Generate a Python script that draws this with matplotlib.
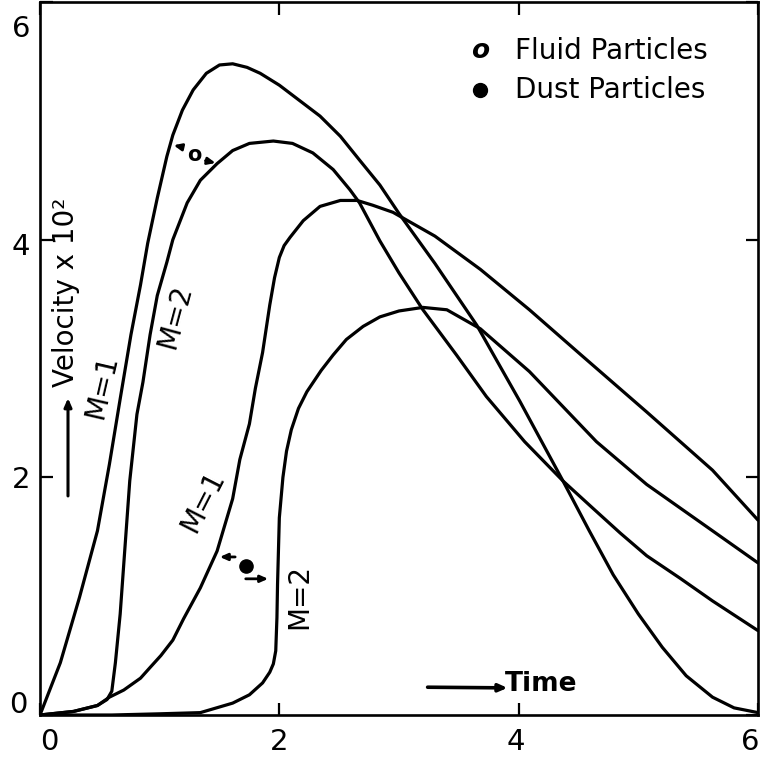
import matplotlib
matplotlib.use("Agg")
import matplotlib.pyplot as plt
from matplotlib.transforms import ScaledTranslation

# ---- data ----
fluid_m1_x = [0, 0.17, 0.33, 0.48, 0.58, 0.67, 0.76, 0.84, 0.90, 0.98, 1.06, 1.11, 1.19, 1.28,
              1.39, 1.50, 1.61, 1.73, 1.84, 2.00, 2.17, 2.34, 2.51, 2.67, 2.84, 3.00, 3.30,
              3.65, 4.01, 4.37, 4.59, 4.79, 5.00, 5.20, 5.40, 5.62, 5.80, 6.00]
fluid_m1_y = [0, 0.44, 0.99, 1.55, 2.11, 2.66, 3.20, 3.62, 3.97, 4.35, 4.70, 4.88, 5.09, 5.26,
              5.40, 5.47, 5.48, 5.45, 5.40, 5.30, 5.17, 5.04, 4.87, 4.67, 4.46, 4.22, 3.80,
              3.28, 2.64, 1.97, 1.55, 1.18, 0.85, 0.57, 0.33, 0.15, 0.06, 0.02]

fluid_m2_x = [0, 0.28, 0.48, 0.56, 0.60, 0.63, 0.67, 0.71, 0.75, 0.81, 0.86, 0.92, 0.98, 1.06,
              1.11, 1.23, 1.34, 1.48, 1.61, 1.75, 1.95, 2.11, 2.28, 2.45, 2.59, 2.67, 2.84,
              3.00, 3.20, 3.48, 3.73, 4.05, 4.37, 4.62, 4.85, 5.07, 5.35, 5.62, 6.00]
fluid_m2_y = [0, 0.03, 0.08, 0.13, 0.20, 0.44, 0.85, 1.41, 1.97, 2.53, 2.80, 3.20, 3.53, 3.81,
              4.00, 4.31, 4.50, 4.64, 4.75, 4.81, 4.83, 4.81, 4.73, 4.59, 4.42, 4.31, 3.99,
              3.72, 3.41, 3.03, 2.68, 2.30, 1.97, 1.74, 1.53, 1.34, 1.15, 0.96, 0.71]

dust_m1_x = [0, 0.28, 0.48, 0.58, 0.70, 0.84, 0.92, 1.01, 1.11, 1.20, 1.34, 1.48, 1.61, 1.67,
             1.75, 1.80, 1.86, 1.92, 1.96, 2.00, 2.04, 2.09, 2.20, 2.34, 2.51, 2.65, 2.78,
             2.95, 3.30, 3.68, 4.09, 4.51, 5.07, 5.62, 6.00]
dust_m1_y = [0, 0.03, 0.08, 0.15, 0.21, 0.31, 0.40, 0.50, 0.63, 0.81, 1.07, 1.38, 1.82, 2.15,
             2.45, 2.75, 3.05, 3.45, 3.68, 3.85, 3.95, 4.02, 4.16, 4.28, 4.33, 4.33, 4.29,
             4.23, 4.03, 3.75, 3.41, 3.04, 2.55, 2.06, 1.64]

dust_m2_x = [0, 0.60, 1.00, 1.34, 1.61, 1.75, 1.86, 1.92, 1.95, 1.97, 1.98, 1.985, 2.00, 2.03,
             2.06, 2.10, 2.16, 2.23, 2.35, 2.45, 2.56, 2.70, 2.84, 3.00, 3.20, 3.40, 3.68,
             4.09, 4.65, 5.07, 5.62, 6.00]
dust_m2_y = [0, 0.0, 0.01, 0.02, 0.10, 0.17, 0.27, 0.36, 0.43, 0.54, 0.82, 1.10, 1.66, 2.00,
             2.22, 2.40, 2.58, 2.72, 2.90, 3.03, 3.16, 3.27, 3.35, 3.40, 3.43, 3.41, 3.25,
             2.89, 2.30, 1.94, 1.55, 1.28]

x_ticks = [0, 2, 4, 6]
y_ticks = [0, 2, 4, 6]
x_tick_labels = ["0", "2", "4", "6"]
y_tick_labels = ["0", "2", "4", "6"]

legend_labels = ["Fluid Particles", "Dust Particles"]
curve_labels = ["M=1", "M=2", "M=1", "M=2"]
y_label = "Velocity x 10\u00b2"
x_label = "Time"

# ---- figure ----
W, H = 760, 757
fig = plt.figure(figsize=(W / 100, H / 100), dpi=100)
ax = fig.add_axes([40 / W, 42 / H, 718 / W, 713 / H])

lw = 2.3
for xs, ys in [(fluid_m1_x, fluid_m1_y), (fluid_m2_x, fluid_m2_y),
               (dust_m1_x, dust_m1_y), (dust_m2_x, dust_m2_y)]:
    ax.plot(xs, ys, color="black", lw=lw, solid_joinstyle="round", solid_capstyle="round")

ax.set_xlim(0, 6)
ax.set_ylim(0, 6)
ax.set_xticks(x_ticks)
ax.set_xticklabels(x_tick_labels)
ax.set_yticks(y_ticks)
ax.set_yticklabels(y_tick_labels)
for s in ax.spines.values():
    s.set_linewidth(1.9)
ax.tick_params(direction="in", top=True, right=True, length=9, width=1.6,
               labelsize=21, pad=7)
ax.tick_params(axis="x", pad=9)

# small offsets of tick labels as in the scan
def shift(lbl, dx_px, dy_px):
    lbl.set_transform(lbl.get_transform() + ScaledTranslation(dx_px / 100, dy_px / 100, fig.dpi_scale_trans))

xl = ax.get_xticklabels()
yl = ax.get_yticklabels()
shift(xl[0], 9, 0)
shift(xl[2], -3, 0)
shift(xl[3], -8, 0)
shift(yl[0], -3, 13)
shift(yl[2], 0, -4)
shift(yl[3], 0, -24)

arrow_big = dict(arrowstyle="-|>,head_length=0.5,head_width=0.22", lw=2.2, color="black")
arrow_small = dict(arrowstyle="-|>,head_length=0.45,head_width=0.2", lw=2.0, color="black")

# y label with arrow
ax.text(0.215, 3.56, y_label, rotation=90, ha="center", va="center", fontsize=20)
ax.annotate("", xy=(0.234, 2.69), xytext=(0.234, 1.82), arrowprops=arrow_big)

# x label with arrow
ax.annotate("", xy=(3.93, 0.228), xytext=(3.216, 0.234), arrowprops=dict(arrow_big, lw=2.6))
ax.text(4.19, 0.26, x_label, ha="center", va="center", fontsize=19, fontweight="bold")

# curve labels
ax.text(0.52, 2.76, curve_labels[0], rotation=77, ha="center", va="center", fontsize=20)
ax.text(1.13, 3.35, curve_labels[1], rotation=75, ha="center", va="center", fontsize=20)
ax.text(1.36, 1.80, curve_labels[2], rotation=63, ha="center", va="center", fontsize=20)
ax.text(2.17, 1.00, curve_labels[3], rotation=90, ha="center", va="center", fontsize=20)

# fluid marker between fluid curves
ax.text(1.29, 4.71, "o", ha="center", va="center", fontsize=15, fontweight="bold")
ax.annotate("", xy=(1.094, 4.80), xytext=(1.205, 4.775), arrowprops=arrow_small)
ax.annotate("", xy=(1.49, 4.64), xytext=(1.36, 4.67), arrowprops=arrow_small)

# dust marker between dust curves
ax.plot([1.72], [1.255], marker="o", ms=9.5, color="black", ls="none")
ax.annotate("", xy=(1.479, 1.33), xytext=(1.654, 1.33), arrowprops=arrow_small)
ax.annotate("", xy=(1.93, 1.146), xytext=(1.696, 1.146), arrowprops=arrow_small)

# legend (hand-drawn style)
ax.text(3.676, 5.59, "o", ha="center", va="center", fontsize=19, fontweight="bold", style="italic")
ax.text(3.968, 5.59, legend_labels[0], ha="left", va="center", fontsize=20)
ax.plot([3.676], [5.26], marker="o", ms=10, color="black", ls="none")
ax.text(3.968, 5.26, legend_labels[1], ha="left", va="center", fontsize=20)

fig.savefig("out.png", dpi=100)
